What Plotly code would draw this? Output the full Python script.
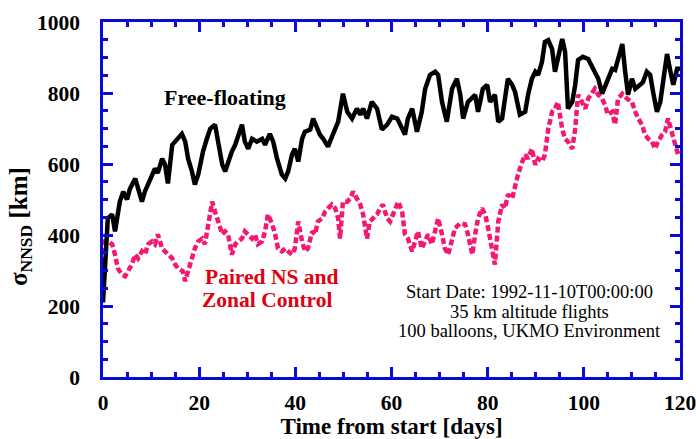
import plotly.graph_objects as go

# Free-floating (black)
free_days = [0, 0.4, 1.0, 1.9, 2.5, 3.5, 4.2, 5.0, 5.6, 6.7, 7.3, 8.1, 8.7, 10.2, 10.8, 11.4, 12.3, 12.9, 13.5,
             14.4, 15.4, 16.4, 17.1, 17.7, 18.5, 19.1, 19.8, 20.8, 21.6, 22.3, 23.3, 23.9, 24.8, 25.4, 26.0,
             26.8, 27.5, 28.1, 28.9, 29.5, 30.2, 31.0, 32.0, 33.1, 33.7, 34.7, 35.4, 36.2, 37.2, 37.9, 38.5,
             39.3, 39.9, 40.6, 41.4, 42.0, 43.1, 43.7, 44.5, 45.1, 45.8, 46.8, 47.8, 48.9, 49.9, 50.8, 51.8,
             52.8, 53.5, 54.1, 54.9, 55.9, 57.0, 58.0, 59.1, 60.1, 61.2, 62.8, 63.4, 64.3, 65.3, 66.3, 67.0,
             68.0, 69.1, 69.7, 70.5, 71.5, 72.6, 73.6, 74.3, 74.9, 75.9, 77.4, 78.0, 79.0, 79.9, 80.5, 81.5,
             82.2, 83.0, 83.6, 84.2, 85.1, 85.7, 86.7, 87.8, 88.4, 89.2, 89.9, 90.5, 91.3, 91.9, 92.6, 93.4,
             94.0, 94.6, 95.5, 96.1, 96.7, 97.6, 98.2, 98.8, 99.8, 100.9, 101.9, 103.0, 103.8, 104.8, 105.9,
             106.5, 107.1, 108.0, 108.6, 109.2, 110.0, 110.7, 111.7, 112.3, 113.1, 113.8, 114.4, 115.2, 115.9,
             116.5, 117.3, 117.9, 118.6, 119.4, 120.0]
free_vals = [210, 330, 447, 458, 410, 494, 522, 500, 530, 559, 531, 494, 522, 570, 587, 575, 615, 598, 545,
             654, 671, 685, 663, 615, 579, 542, 570, 635, 671, 699, 711, 663, 598, 579, 607,
             635, 654, 683, 711, 663, 643, 671, 663, 671, 654, 685, 663, 615, 570, 559, 579,
             626, 643, 607, 671, 691, 697, 728, 699, 683, 671, 649, 683, 719, 798, 747, 728,
             756, 739, 756, 728, 775, 756, 697, 711, 733, 728, 683, 728, 756, 691, 747, 812,
             851, 860, 851, 775, 719, 812, 840, 795, 728, 775, 795, 747, 812, 823, 775, 795,
             719, 728, 775, 840, 823, 803, 739, 747, 795, 840, 860, 851, 888, 944, 949, 924,
             860, 896, 952, 916, 756, 775, 823, 893, 902, 896, 868, 840, 798, 831, 868,
             865, 896, 938, 860, 795, 840, 812, 823, 831, 860, 851, 803, 747, 775,
             840, 910, 868, 823, 868, 868]

# Paired NS and Zonal Control (pink)
paired_days = [0, 0.4, 1.0, 1.9, 2.5, 3.1, 3.9, 4.6, 5.2, 6.0, 6.7, 7.3, 8.1, 8.7, 9.4, 10.2, 10.8, 11.4,
               12.3, 12.9, 13.5, 14.4, 15.0, 15.6, 16.6, 17.1, 17.7, 18.5, 19.1, 19.8, 20.6, 21.2, 21.8,
               22.7, 23.3, 23.9, 24.8, 25.4, 26.0, 26.8, 27.5, 28.1, 28.9, 29.5, 30.2, 31.0, 31.6, 32.2,
               33.1, 33.7, 34.3, 35.2, 35.8, 36.4, 37.2, 37.9, 38.5, 39.3, 39.9, 40.6, 41.4, 42.0, 42.6,
               43.5, 44.1, 44.7, 45.6, 46.2, 46.8, 47.6, 48.3, 48.9, 49.3, 49.9, 50.8, 51.4, 52.0, 52.8,
               53.5, 54.1, 54.9, 55.5, 56.2, 57.0, 57.6, 58.2, 59.1, 59.7, 60.3, 61.2, 61.4, 62.2, 62.8,
               63.4, 64.3, 64.9, 65.5, 66.3, 67.0, 67.6, 68.4, 69.1, 69.7, 70.5, 71.1, 71.8, 72.6, 73.2,
               74.3, 75.3, 75.9, 76.8, 77.4, 78.0, 78.8, 79.5, 80.1, 80.9, 81.5, 82.2, 83.0, 83.6, 84.2,
               85.1, 85.7, 86.3, 87.2, 87.8, 88.4, 89.2, 89.9, 90.5, 91.3, 91.9, 92.6, 93.4, 94.0, 94.6,
               95.5, 96.1, 96.7, 97.6, 98.2, 98.8, 99.6, 100.3, 100.9, 101.7, 102.3, 103.0, 103.8, 104.4,
               105.0, 105.9, 106.5, 107.1, 108.0, 109.0, 110.0, 110.7, 111.3, 112.1, 112.7, 113.4, 114.2,
               114.8, 115.4, 116.3, 116.9, 117.5, 118.3, 119.0, 119.6, 120.0]
paired_vals = [270, 382, 382, 374, 345, 306, 289, 284, 298, 317, 345, 334, 354, 345, 374, 382, 374, 402,
               362, 354, 345, 334, 317, 306, 298, 270, 298, 334, 362, 382, 390, 374, 430,
               494, 466, 438, 402, 410, 402, 345, 374, 382, 390, 410, 402, 390, 402, 374,
               382, 410, 458, 430, 402, 362, 354, 362, 354, 345, 362, 438, 382, 354, 362,
               410, 402, 438, 447, 466, 475, 486, 475, 447, 390, 494, 494, 503, 522, 503,
               486, 458, 390, 438, 447, 458, 475, 486, 447, 438, 458, 486, 494, 466, 402,
               390, 354, 382, 410, 362, 382, 402, 374, 410, 447, 402, 362, 345, 382, 419,
               433, 430, 402, 345, 402, 447, 475, 458, 419, 362, 317, 438, 486, 475, 514,
               503, 542, 570, 607, 626, 615, 643, 598, 615, 607, 626, 699, 747, 756, 775,
               699, 671, 663, 643, 699, 795, 775, 756, 784, 803, 812, 795, 784, 767,
               739, 747, 711, 784, 798, 784, 775, 747, 728, 711, 683, 671, 663,
               643, 663, 683, 691, 728, 691, 654, 626, 635]

x_major = [0, 20, 40, 60, 80, 100, 120]
x_minor = [5 * i for i in range(25)]
y_major = [0, 200, 400, 600, 800, 1000]
y_minor = [50 * i for i in range(21)]

info_lines = ["Start Date: 1992-11-10T00:00:00", "35 km altitude flights",
              "100 balloons, UKMO Environment"]

AXIS_BLUE = "#0a0ad8"
SERIF = "Times New Roman, Liberation Serif, DejaVu Serif, serif"
X_RANGE = [0, 120]
Y_RANGE = [0, 1000]

fig = go.Figure()
fig.add_trace(go.Scatter(x=paired_days, y=paired_vals, mode="lines",
                         line=dict(color="#f41872", width=4.5, dash="6px,3px"),
                         showlegend=False, hoverinfo="skip"))
fig.add_trace(go.Scatter(x=free_days, y=free_vals, mode="lines",
                         line=dict(color="black", width=4.5),
                         showlegend=False, hoverinfo="skip"))

tickfont = dict(family=SERIF, size=21.5, color="black", weight="bold")
common = dict(showline=True, linecolor=AXIS_BLUE, linewidth=2.5, mirror="allticks",
              ticks="inside", tickcolor=AXIS_BLUE, tickwidth=2.5, ticklen=10,
              showgrid=False, zeroline=False, automargin=False,
              ticklabeloverflow="allow", tickfont=tickfont, tickmode="array")
minor_common = dict(ticks="inside", ticklen=5, tickcolor=AXIS_BLUE, tickwidth=2.5,
                    showgrid=False)

fig.update_layout(
    xaxis=dict(range=X_RANGE, tickvals=x_major, ticklabelstandoff=4,
               minor=dict(tickmode="array", tickvals=x_minor, **minor_common),
               title=dict(text="Time from start [days]", standoff=9,
                          font=dict(family=SERIF, size=23, color="black", weight="bold")),
               **common),
    yaxis=dict(range=Y_RANGE, tickvals=y_major, ticklabelstandoff=16,
               minor=dict(tickmode="array", tickvals=y_minor, **minor_common),
               **common),
)

# y-axis title
fig.add_annotation(x=-0.144, y=0.425, xref="paper", yref="paper", textangle=-90,
                   text="<b>σ<sub>NNSD</sub> [km]</b>", showarrow=False,
                   xanchor="center", yanchor="middle",
                   font=dict(family=SERIF, size=25, color="black"))

fig.add_annotation(x=25.4, y=786, xref="x", yref="y", text="<b>Free-floating</b>",
                   showarrow=False, font=dict(family=SERIF, size=22, color="black"))
fig.add_annotation(x=35, y=282, xref="x", yref="y", text="<b>Paired NS and</b>",
                   showarrow=False, xanchor="center",
                   font=dict(family=SERIF, size=21.5, color="#e0000f"))
fig.add_annotation(x=34.2, y=217, xref="x", yref="y", text="<b>Zonal Control</b>",
                   showarrow=False, xanchor="center",
                   font=dict(family=SERIF, size=21.5, color="#e0000f"))
for txt, yv in zip(info_lines, [239, 184.5, 129.5]):
    fig.add_annotation(x=88.6, y=yv, xref="x", yref="y", text=txt,
                       showarrow=False, xanchor="center",
                       font=dict(family=SERIF, size=18.5, color="black"))

fig.update_layout(width=696, height=439, margin=dict(l=103, r=16, t=22, b=62),
                  paper_bgcolor="white", plot_bgcolor="white")

fig.write_html("out.html")
